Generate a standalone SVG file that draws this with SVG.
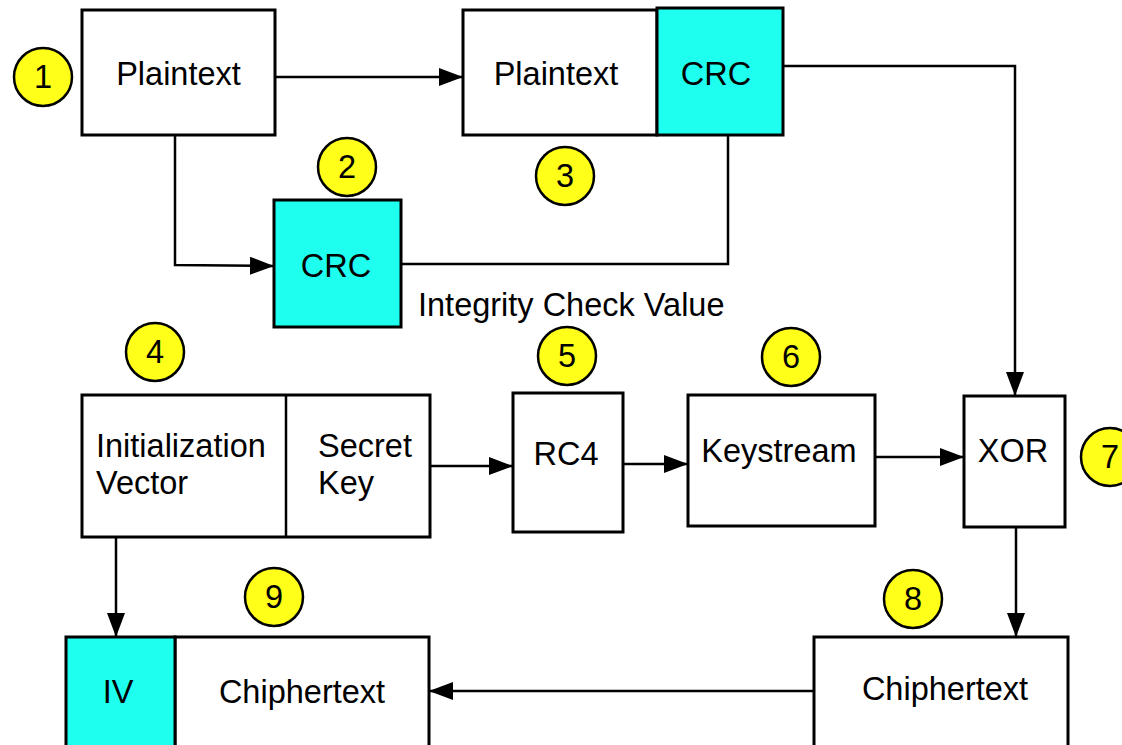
<svg xmlns="http://www.w3.org/2000/svg" width="1122" height="745" viewBox="0 0 1122 745">
  <style>
    .box { fill: #ffffff; stroke: #000000; stroke-width: 3; }
    .crc { fill: #1ffff0; stroke: #000000; stroke-width: 3; }
    .badge { fill: #ffff1a; stroke: #000000; stroke-width: 2.5; }
    .lbl { font-family: "Liberation Sans", Arial, Helvetica, sans-serif; font-size: 32.5px; fill: #000000; }
    .mid { text-anchor: middle; }
    .wire { fill: none; stroke: #000000; stroke-width: 2.5; }
    .arrow { marker-end: url(#head); }
  </style>
  <defs>
    <marker id="head" markerUnits="userSpaceOnUse" markerWidth="24" markerHeight="18" refX="24" refY="9" orient="auto">
      <path d="M0,0 L24,9 L0,18 z" fill="#000000"/>
    </marker>
  </defs>
  <rect width="1122" height="745" fill="#ffffff"/>

  <!-- connectors -->
  <g id="connectors">
    <path class="wire arrow" d="M275,77 L463,77"/>
    <path class="wire arrow" d="M175,135 L175,265 L274,266"/>
    <path class="wire" d="M401,264 L728,264 L728,135"/>
    <path class="wire arrow" d="M783,66 L1015,66 L1015,396"/>
    <path class="wire arrow" d="M430,466 L513,466"/>
    <path class="wire arrow" d="M622,464 L688,464"/>
    <path class="wire arrow" d="M875,457 L964,457"/>
    <path class="wire arrow" d="M1016,527 L1016,637"/>
    <path class="wire arrow" d="M814,691 L429,691"/>
    <path class="wire arrow" d="M116,537 L116,637"/>
  </g>

  <!-- 1: plaintext -->
  <g id="plaintext">
    <rect class="box" x="82" y="10" width="193" height="125"/>
    <text class="lbl mid" x="178.5" y="85">Plaintext</text>
    <circle class="badge" cx="43" cy="77" r="29"/>
    <text class="lbl mid" x="43" y="88">1</text>
  </g>

  <!-- 2: integrity check value -->
  <g id="crc">
    <rect class="crc" x="274" y="200" width="127" height="127"/>
    <text class="lbl mid" x="336" y="277">CRC</text>
    <circle class="badge" cx="347" cy="167" r="29"/>
    <text class="lbl mid" x="347" y="178">2</text>
    <text class="lbl" x="418" y="316">Integrity Check Value</text>
  </g>

  <!-- 3: plaintext with CRC appended -->
  <g id="plaintext-crc">
    <rect class="box" x="463" y="10" width="194" height="125"/>
    <text class="lbl mid" x="556" y="85">Plaintext</text>
    <rect class="crc" x="657" y="8" width="126" height="127"/>
    <text class="lbl mid" x="716" y="85">CRC</text>
    <circle class="badge" cx="565" cy="176" r="29"/>
    <text class="lbl mid" x="565" y="187">3</text>
  </g>

  <!-- 4: IV and secret key -->
  <g id="iv-key">
    <rect class="box" x="82" y="395" width="348" height="142"/>
    <line class="wire" x1="286" y1="395" x2="286" y2="537"/>
    <text class="lbl" x="96" y="457">Initialization</text>
    <text class="lbl" x="96" y="494">Vector</text>
    <text class="lbl" x="318" y="457">Secret</text>
    <text class="lbl" x="318" y="494">Key</text>
    <circle class="badge" cx="155" cy="352" r="29"/>
    <text class="lbl mid" x="155" y="363">4</text>
  </g>

  <!-- 5: RC4 -->
  <g id="rc4">
    <rect class="box" x="513" y="393" width="110" height="139"/>
    <text class="lbl mid" x="566" y="465">RC4</text>
    <circle class="badge" cx="567" cy="356" r="29"/>
    <text class="lbl mid" x="567" y="367">5</text>
  </g>

  <!-- 6: keystream -->
  <g id="keystream">
    <rect class="box" x="688" y="395" width="187" height="131"/>
    <text class="lbl mid" x="779" y="462">Keystream</text>
    <circle class="badge" cx="791" cy="357" r="29"/>
    <text class="lbl mid" x="791" y="368">6</text>
  </g>

  <!-- 7: XOR -->
  <g id="xor">
    <rect class="box" x="964" y="396" width="101" height="131"/>
    <text class="lbl mid" x="1013" y="462">XOR</text>
    <circle class="badge" cx="1110" cy="457" r="29"/>
    <text class="lbl mid" x="1110" y="468">7</text>
  </g>

  <!-- 8: ciphertext -->
  <g id="ciphertext">
    <rect class="box" x="814" y="637" width="254" height="130"/>
    <text class="lbl mid" x="945" y="700">Chiphertext</text>
    <circle class="badge" cx="913" cy="599" r="29"/>
    <text class="lbl mid" x="913" y="610">8</text>
  </g>

  <!-- 9: IV prepended to ciphertext -->
  <g id="iv-ciphertext">
    <rect class="box" x="175" y="637" width="254" height="130"/>
    <text class="lbl mid" x="302" y="703">Chiphertext</text>
    <rect class="crc" x="66" y="637" width="109" height="130"/>
    <text class="lbl mid" x="118" y="703">IV</text>
    <circle class="badge" cx="274" cy="597" r="29"/>
    <text class="lbl mid" x="274" y="608">9</text>
  </g>
</svg>
